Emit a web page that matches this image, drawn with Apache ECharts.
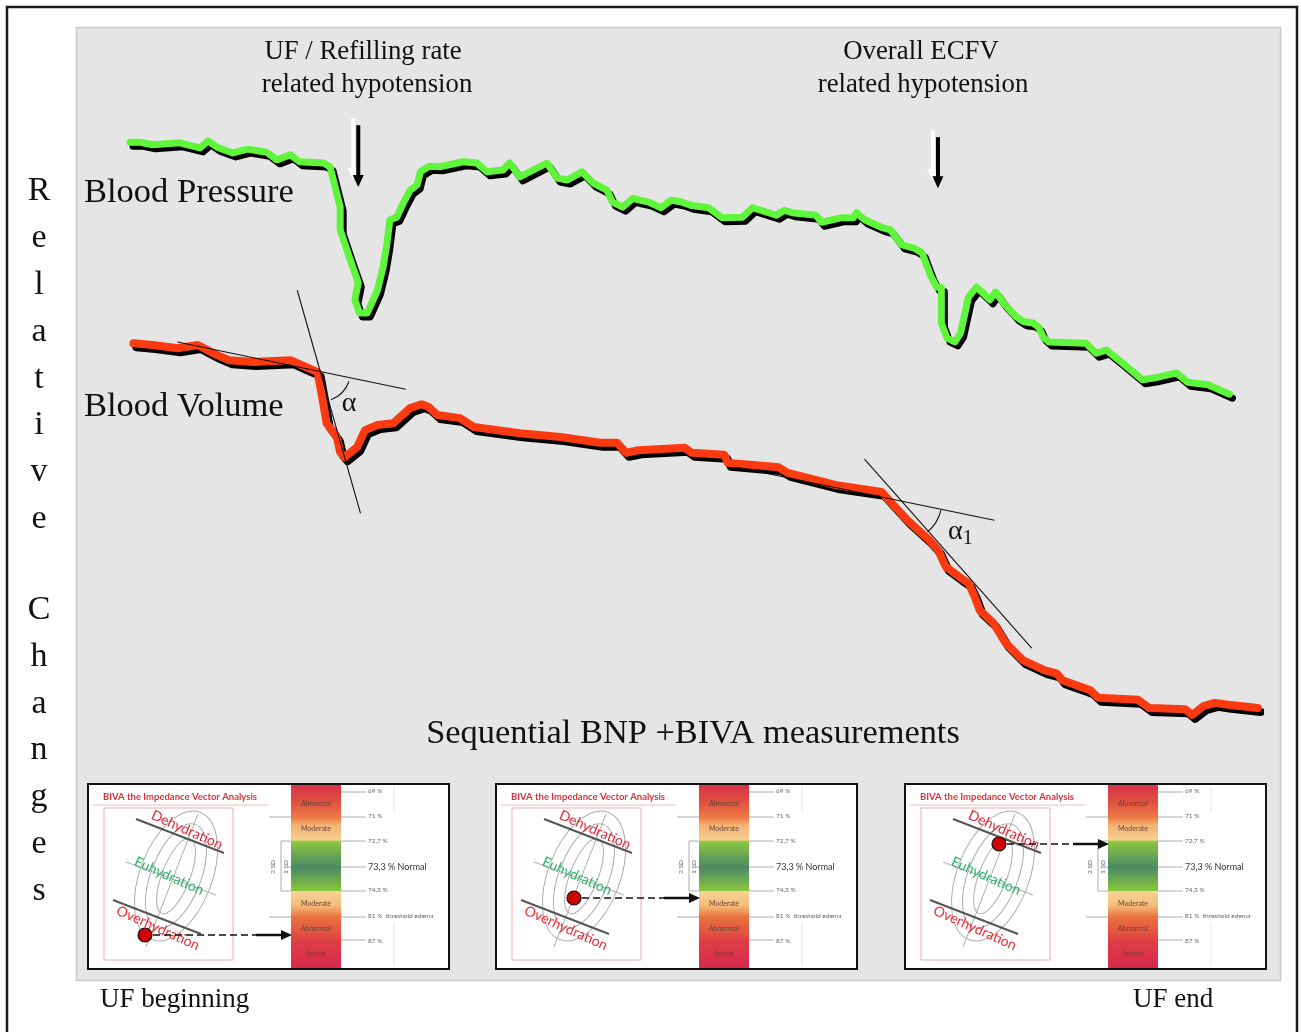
<!DOCTYPE html>
<html>
<head>
<meta charset="utf-8">
<title>Relative changes during UF</title>
<script src="https://cdn.jsdelivr.net/npm/echarts@6/dist/echarts.min.js"></script>
<style>
  html, body { margin: 0; padding: 0; background: #fff; }
  #chart { width: 1301px; height: 1032px; }
</style>
</head>
<body>
<div id="chart"></div>
<script>
// x: time in % of the UF session, y: relative change (arbitrary units)
const bpTime = [0, 0.9, 2.0, 4.4, 6.2, 6.9, 7.7, 9.1, 10.4, 12.1, 13.0, 14.2, 15.0, 17.1, 17.7, 18.0, 18.6, 18.6, 19.5, 20.2,
  19.9, 20.3, 21.0, 21.9, 22.4, 22.7, 23.0, 23.6, 24.2, 24.8, 25.4, 25.7, 26.5, 27.4, 29.5, 30.7, 31.6, 33.0, 33.6, 34.5,
  36.9, 37.8, 38.7, 40.0, 41.0, 42.2, 42.7, 43.6, 44.5, 45.1, 45.9, 47.0, 47.9, 48.8, 49.6, 51.2, 52.4, 54.2, 55.1, 57.2,
  57.9, 58.6, 60.7, 61.2, 62.9, 64.0, 64.3, 65.0, 66.5, 67.3, 68.3, 69.4, 70.1, 70.9, 71.4, 71.8, 71.8, 72.3, 73.0, 73.5,
  74.2, 74.9, 75.4, 76.1, 76.6, 77.3, 78.4, 79.1, 79.9, 80.4, 80.8, 81.3, 84.6, 85.5, 86.4, 87.8, 89.6, 90.7, 92.6, 93.6,
  95.4, 97.3];
const bpValue = [93.3, 93.3, 92.9, 93.2, 92.4, 93.5, 92.5, 91.6, 92.2, 91.7, 90.5, 91.3, 90.2, 90.0, 89.4, 87.3, 83.0, 79.4, 74.6, 71.0,
  68.3, 66.2, 66.2, 69.8, 73.5, 76.7, 81.0, 81.4, 83.7, 85.7, 86.5, 88.6, 89.5, 89.4, 90.2, 90.0, 88.6, 88.9, 90.0, 87.8,
  90.0, 87.6, 87.3, 88.6, 86.8, 85.7, 83.8, 83.0, 84.4, 84.1, 83.8, 82.9, 84.1, 83.8, 83.3, 82.9, 81.3, 81.4, 82.9, 81.7,
  82.5, 82.1, 81.7, 80.6, 81.3, 81.3, 82.1, 81.0, 79.8, 79.4, 77.0, 76.5, 75.7, 71.9, 70.3, 70.2, 64.6, 62.2, 61.6, 63.0,
  68.7, 70.3, 69.5, 68.3, 69.5, 67.8, 65.6, 64.8, 64.6, 64.0, 62.4, 61.6, 61.4, 59.8, 60.3, 58.3, 55.6, 55.9, 56.7, 55.2,
  54.8, 53.3];

const bvTime = [0.3, 2.0, 4.2, 6.0, 7.7, 8.8, 10.9, 14.2, 15.2, 16.6, 17.0, 17.4, 18.3, 18.6, 19.0, 20.1, 20.8, 21.9, 23.3, 24.8,
  25.8, 26.4, 27.2, 29.2, 30.4, 34.5, 38.1, 41.6, 43.1, 43.9, 45.0, 49.1, 49.7, 52.6, 52.9, 54.9, 57.4, 58.2, 62.4, 66.5,
  67.3, 68.8, 70.7, 71.5, 72.2, 73.4, 74.2, 74.7, 75.2, 76.4, 77.5, 79.0, 80.9, 82.0, 82.5, 85.0, 85.7, 89.2, 90.2, 93.4,
  94.0, 95.0, 96.0, 97.2, 99.8];
const bvValue = [61.4, 61.1, 60.6, 61.1, 59.5, 58.7, 58.4, 58.7, 57.9, 56.8, 52.9, 48.7, 46.5, 44.1, 43.3, 44.9, 47.6, 48.4, 48.7, 51.1,
  51.7, 51.3, 50.0, 49.5, 48.1, 47.1, 46.5, 45.6, 45.6, 44.0, 44.4, 44.8, 44.0, 43.7, 42.4, 42.1, 41.7, 40.8, 38.9, 37.8,
  36.2, 33.3, 30.2, 28.6, 25.9, 24.3, 23.3, 21.4, 19.0, 17.0, 13.8, 11.1, 9.5, 9.0, 7.9, 6.3, 5.1, 4.8, 3.5, 3.3,
  2.4, 3.8, 4.3, 4.0, 3.5];

// slopes drawn on the blood volume curve
const slopeEarlyFlat = [[4.2, 61.6], [24.4, 54.1]];
const slopeEarlySteep = [[14.8, 69.8], [20.4, 34.4]];
const slopeLateFlat = [[53.7, 41.7], [76.5, 33.3]];
const slopeLateSteep = [[65.0, 43.0], [79.8, 13.0]];
const angleVertex = [[16.8, 57.0], [68.3, 36.3]];

// hypotension events: time, arrow top, arrow tip
const eventTime = [20.2, 71.5];
const eventTop = [96.0, 94.1];
const eventTip = [86.2, 86.0];

const chart = echarts.init(document.getElementById('chart'));
const SERIF = '"Liberation Serif", "Times New Roman", serif';
const SANS = 'Lato, "Open Sans", sans-serif';
const deg = Math.PI / 180;

// one BIVA inset panel
function bivaInset (x0, dot) {
  const els = [];
  const line = (x1, y1, x2, y2, stroke, w, extra) => ({
    type: 'line', shape: { x1, y1, x2, y2 }, style: Object.assign({ stroke, lineWidth: w }, extra || {})
  });
  const txt = (x, y, text, font, fill, extra) => ({
    type: 'text', x, y,
    rotation: (extra && extra.rotation) || 0,
    style: Object.assign({ text, font, fill, textVerticalAlign: 'middle' }, (extra && extra.style) || {})
  });

  els.push({ type: 'rect', shape: { x: 0, y: 0, width: 361, height: 185 }, style: { fill: '#fff', stroke: '#111', lineWidth: 2 } });
  els.push(line(306, 3, 306, 28, '#e6e6e6', 1));
  els.push(line(306, 138, 306, 182, '#e6e6e6', 1));

  // left: vector graph
  els.push(txt(15, 13, 'BIVA the Impedance Vector Analysis', 'bold 9.5px ' + SANS, '#d3353c'));
  els.push(line(4, 21, 180, 21, '#f4baba', 1));
  els.push({ type: 'rect', shape: { x: 16, y: 24, width: 129, height: 152 }, style: { fill: null, stroke: '#f1a9a9', lineWidth: 1 } });
  [[14, 40], [25, 55], [36, 68]].forEach(function (r) {
    els.push({
      type: 'ellipse', x: 88, y: 92, rotation: -21 * deg,
      shape: { cx: 0, cy: 0, rx: r[0], ry: r[1] },
      style: { fill: null, stroke: '#adadad', lineWidth: 1 }
    });
  });
  els.push(line(58, 163, 110, 30, '#adadad', 1));
  els.push(line(38, 78, 128, 111, '#adadad', 1));
  els.push(line(48, 35, 136, 69, '#555', 2));
  els.push(line(25, 116, 113, 150, '#555', 2));
  const rot = { rotation: -24 * deg, style: { textAlign: 'center' } };
  els.push(txt(99, 46, 'Dehydration', '14px ' + SANS, '#e1283a', rot));
  els.push(txt(81, 92, 'Euhydration', '14px ' + SANS, '#2fb36a', rot));
  els.push(txt(70, 144, 'Overhydration', '14px ' + SANS, '#ec2c36', rot));

  // right: hydration scale
  const bx = 203, bw = 50;
  els.push(line(181, 33, 278, 33, '#999', 0.8));
  els.push(line(181, 133, 278, 133, '#999', 0.8));
  els.push(line(200, 83, 278, 83, '#999', 0.8));
  [8, 57, 107, 156].forEach(function (y) { els.push(line(253, y, 278, y, '#999', 0.8)); });
  els.push({
    type: 'rect', shape: { x: bx, y: 1, width: bw, height: 183 },
    style: {
      fill: new echarts.graphic.LinearGradient(0, 0, 0, 1, [
        { offset: 0, color: '#d8344a' },
        { offset: 0.1, color: '#e0533e' },
        { offset: 0.18, color: '#ec7c46' },
        { offset: 0.22, color: '#f4b374' },
        { offset: 0.3, color: '#f7cf92' },
        { offset: 0.31, color: '#8cc63f' },
        { offset: 0.45, color: '#4b8a66' },
        { offset: 0.58, color: '#8cc63c' },
        { offset: 0.581, color: '#f8d398' },
        { offset: 0.66, color: '#f5bd7a' },
        { offset: 0.72, color: '#e9733f' },
        { offset: 0.8, color: '#e3563f' },
        { offset: 0.86, color: '#dd3c47' },
        { offset: 1, color: '#d8294b' }
      ])
    }
  });
  const bandFont = '7px ' + SANS;
  const bandCol = '#6e4338';
  const mid = { style: { textAlign: 'center' } };
  els.push(txt(bx + bw / 2, 20, 'Abnormal', bandFont, bandCol, mid));
  els.push(txt(bx + bw / 2, 45, 'Moderate', bandFont, bandCol, mid));
  els.push(txt(bx + bw / 2, 120, 'Moderate', bandFont, bandCol, mid));
  els.push(txt(bx + bw / 2, 145, 'Abnormal', bandFont, bandCol, mid));
  els.push(txt(bx + bw / 2, 170, 'Severe', bandFont, bandCol, mid));

  const pFont = '6.5px ' + SANS;
  els.push(txt(280, 7, '69 %', pFont, '#666'));
  els.push(txt(280, 32, '71 %', pFont, '#666'));
  els.push(txt(280, 57, '72,7 %', pFont, '#666'));
  els.push(txt(280, 83, '73,3 % Normal', '9px ' + SANS, '#333'));
  els.push(txt(280, 106, '74,3 %', pFont, '#666'));
  els.push(txt(280, 132, '81 %  threshold edema', pFont, '#666'));
  els.push(txt(280, 157, '87 %', pFont, '#666'));

  els.push({ type: 'polyline', shape: { points: [[203, 57], [193, 57], [193, 107], [203, 107]] }, style: { stroke: '#999', lineWidth: 0.8, fill: null } });
  els.push(txt(185, 83, '2 SD', '6.5px ' + SANS, '#666', { rotation: 90 * deg, style: { textAlign: 'center' } }));
  els.push(txt(198, 83, '1 SD', '6.5px ' + SANS, '#666', { rotation: 90 * deg, style: { textAlign: 'center' } }));

  // measured point and its projection on the scale
  els.push(line(dot[0] + 8, dot[1], 168, dot[1], '#111', 1.3, { lineDash: [7, 4] }));
  els.push(line(168, dot[1], 195, dot[1], '#111', 2.5));
  els.push({ type: 'polygon', shape: { points: [[193, dot[1] - 5], [204, dot[1]], [193, dot[1] + 5]] }, style: { fill: '#111' } });
  els.push({ type: 'circle', shape: { cx: dot[0], cy: dot[1], r: 7 }, style: { fill: '#d00000', stroke: '#111', lineWidth: 1.2 } });

  return { type: 'group', x: x0, y: 784, children: els };
}

const graphics = [
  { type: 'rect', z: 0, shape: { x: 7, y: 7, width: 1290, height: 1040 }, style: { fill: '#fff', stroke: '#1a1a1a', lineWidth: 2.5 } },
  { type: 'rect', z: 0, shape: { x: 76.5, y: 27.5, width: 1204, height: 953 }, style: { fill: '#e5e5e5', stroke: '#c8c8c8', lineWidth: 1.5 } },
  { type: 'text', x: 363, y: 52, style: { text: 'UF / Refilling rate', font: '26.8px ' + SERIF, fill: '#111', textAlign: 'center', textVerticalAlign: 'middle' } },
  { type: 'text', x: 367, y: 85, style: { text: 'related hypotension', font: '26.8px ' + SERIF, fill: '#111', textAlign: 'center', textVerticalAlign: 'middle' } },
  { type: 'text', x: 921, y: 52, style: { text: 'Overall ECFV', font: '26.8px ' + SERIF, fill: '#111', textAlign: 'center', textVerticalAlign: 'middle' } },
  { type: 'text', x: 923, y: 85, style: { text: 'related hypotension', font: '26.8px ' + SERIF, fill: '#111', textAlign: 'center', textVerticalAlign: 'middle' } },
  { type: 'text', x: 84, y: 193, style: { text: 'Blood Pressure', font: '34.5px ' + SERIF, fill: '#111', textVerticalAlign: 'middle' } },
  { type: 'text', x: 84, y: 407, style: { text: 'Blood Volume', font: '34.5px ' + SERIF, fill: '#111', textVerticalAlign: 'middle' } },
  { type: 'text', x: 349, y: 404, style: { text: 'α', font: '28px ' + SERIF, fill: '#111', textAlign: 'center', textVerticalAlign: 'middle' } },
  {
    type: 'text', x: 948, y: 532,
    style: {
      text: '{a|α}{s|1}', textVerticalAlign: 'middle', fill: '#111',
      rich: { a: { font: '28px ' + SERIF, fill: '#111' }, s: { font: '20px ' + SERIF, fill: '#111', padding: [14, 0, 0, 0] } }
    }
  },
  { type: 'text', x: 693, y: 734, style: { text: 'Sequential BNP +BIVA measurements', font: '34.4px ' + SERIF, fill: '#111', textAlign: 'center', textVerticalAlign: 'middle' } },
  { type: 'text', x: 100, y: 1000, style: { text: 'UF beginning', font: '27px ' + SERIF, fill: '#111', textVerticalAlign: 'middle' } },
  { type: 'text', x: 1133, y: 1000, style: { text: 'UF end', font: '27px ' + SERIF, fill: '#111', textVerticalAlign: 'middle' } },
  bivaInset(88, [57, 151]),
  bivaInset(496, [78, 114]),
  bivaInset(905, [94, 60])
];

// vertical axis caption, one letter per line
'Relative'.split('').forEach(function (c, i) {
  graphics.push({ type: 'text', x: 39, y: 191 + i * 46.9, style: { text: c, font: '34px ' + SERIF, fill: '#111', textAlign: 'center', textVerticalAlign: 'middle' } });
});
'Changes'.split('').forEach(function (c, i) {
  graphics.push({ type: 'text', x: 39, y: 610 + i * 46.8, style: { text: c, font: '34px ' + SERIF, fill: '#111', textAlign: 'center', textVerticalAlign: 'middle' } });
});

const shadowLine = (color, width) => ({
  color, width, cap: 'round', join: 'round',
  shadowColor: '#000', shadowBlur: 0, shadowOffsetX: 3, shadowOffsetY: 4
});
const slope = (data) => ({
  type: 'line', data, symbol: 'none', z: 5, silent: true,
  lineStyle: { color: '#111', width: 1.1 }
});

chart.setOption({
  animation: false,
  grid: { left: 130, right: 41, top: 100, bottom: 302 },
  xAxis: { type: 'value', min: 0, max: 100, show: false },
  yAxis: { type: 'value', min: 0, max: 100, show: false },
  graphic: graphics,
  series: [
    {
      name: 'Blood Pressure', type: 'line', symbol: 'none', z: 3,
      data: bpTime.map((t, i) => [t, bpValue[i]]),
      lineStyle: shadowLine('#5ef53a', 7)
    },
    {
      name: 'Blood Volume', type: 'line', symbol: 'none', z: 3,
      data: bvTime.map((t, i) => [t, bvValue[i]]),
      lineStyle: shadowLine('#fb3a12', 8)
    },
    slope(slopeEarlyFlat),
    slope(slopeEarlySteep),
    slope(slopeLateFlat),
    slope(slopeLateSteep),
    {
      type: 'custom', z: 5, silent: true,
      data: angleVertex,
      renderItem: function (params, api) {
        const c = api.coord([api.value(0), api.value(1)]);
        const span = params.dataIndex === 0 ? [20, 69, 31] : [13, 50, 40];
        return {
          type: 'arc',
          shape: { cx: c[0], cy: c[1], r: span[2], startAngle: span[0] * deg, endAngle: span[1] * deg },
          style: { stroke: '#111', fill: null, lineWidth: 1.1 }
        };
      }
    },
    {
      type: 'custom', z: 5, silent: true,
      data: eventTime.map((t, i) => [t, eventTop[i], eventTip[i]]),
      renderItem: function (params, api) {
        const top = api.coord([api.value(0), api.value(1)]);
        const tip = api.coord([api.value(0), api.value(2)]);
        const arrow = (dx, dy, color) => ({
          type: 'group', x: dx, y: dy,
          children: [
            { type: 'rect', shape: { x: top[0] - 2, y: top[1], width: 4, height: tip[1] - top[1] - 10 }, style: { fill: color } },
            { type: 'polygon', shape: { points: [[tip[0] - 5.5, tip[1] - 12], [tip[0] + 5.5, tip[1] - 12], [tip[0], tip[1]]] }, style: { fill: color } }
          ]
        });
        return { type: 'group', children: [arrow(-5, -7, '#ffffff'), arrow(0, 0, '#000000')] };
      }
    }
  ]
});
</script>
</body>
</html>
